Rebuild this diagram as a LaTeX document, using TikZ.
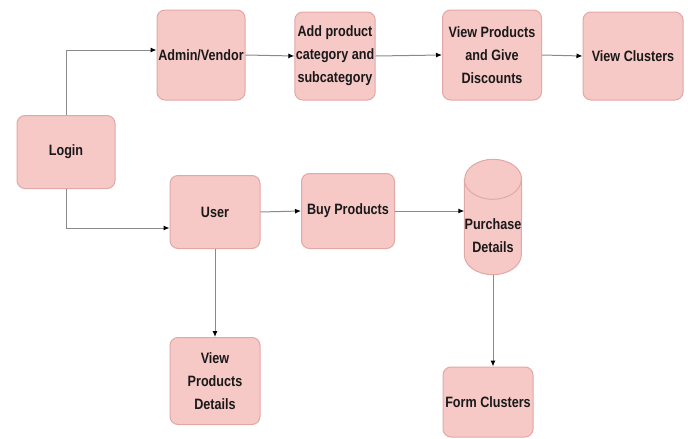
\documentclass[tikz,border=0pt]{standalone}
\usepackage{fontspec}
\setmainfont{Liberation Sans}[FakeStretch=0.84]
\usetikzlibrary{arrows.meta}
\definecolor{boxfill}{HTML}{F6C8C6}
\definecolor{boxline}{HTML}{E2A8A6}
\definecolor{wire}{HTML}{8A8A8A}
\begin{document}
\begin{tikzpicture}[x=1pt,y=-1pt,
                    box/.style = {draw=boxline,fill=boxfill,rounded corners=8pt,line width=1pt,inner xsep=1pt,
                                  align=center,font=\bfseries\fontsize{15}{23}\selectfont,text=black!90},
                    link/.style = {draw=wire,line width=1pt,-{Latex[color=black,length=6pt,width=5pt]}}]
                    \useasboundingbox (0,0) rectangle (688,439);

                    \node[box,minimum width=98pt,minimum height=73pt] (login) at (66,152) {Login};
                    \node[box,minimum width=88pt,minimum height=90pt] (admin) at (201,55) {Admin/Vendor};
                    \node[box,minimum width=80pt,minimum height=88pt] (addcat) at (335,56) {Add product\\category and\\subcategory};
                    \node[box,minimum width=99pt,minimum height=90pt] (viewdisc) at (492,55) {View Products\\and Give\\Discounts};
                    \node[box,minimum width=100pt,minimum height=88pt] (viewcl) at (633,56) {View Clusters};

                    \node[box,minimum width=90pt,minimum height=73pt] (user) at (215,212) {User};
                    \node[box,minimum width=93pt,minimum height=75pt] (buy) at (348,211) {Buy Products};

                    % purchase details drum
                    \node[minimum width=57pt,minimum height=115pt,inner sep=0pt] (pd) at (493,217) {};
                    \draw[draw=boxline,fill=boxfill,line width=1pt]
                        ([yshift=-20pt]pd.north west) -- ([yshift=20pt]pd.south west)
                        arc (180:360:28.5pt and 20pt) -- ([yshift=-20pt]pd.north east)
                        arc (0:180:28.5pt and 20pt) -- cycle;
                    \draw[draw=boxline,line width=1pt] ([yshift=-20pt]pd.north west) arc (180:360:28.5pt and 20pt);
                    \node[box,draw=none,fill=none,inner sep=0pt] (pdtext) at (493,236) {Purchase\\Details};

                    \node[box,minimum width=90pt,minimum height=87pt] (viewpd) at (215,381) {View\\Products\\Details};
                    \node[box,minimum width=90pt,minimum height=70pt] (form) at (488,402) {Form Clusters};

                    \draw[link] (login.north) |- ([yshift=5pt]admin.west);
                    \draw[link] (login.south) |- ([yshift=-16pt]user.west);
                    \draw[link] (admin.east) -- (addcat.west);
                    \draw[link] (addcat.east) -- (viewdisc.west);
                    \draw[link] (viewdisc.east) -- (viewcl.west);
                    \draw[link] (user.east) -- (buy.west);
                    \draw[link] (buy.east) -- (buy.east -| pd.west);
                    \draw[link] (user.south) -- (viewpd.north);
                    \draw[link] (pd.south) -- (pd.south |- form.north);
                \end{tikzpicture}
\end{document}
